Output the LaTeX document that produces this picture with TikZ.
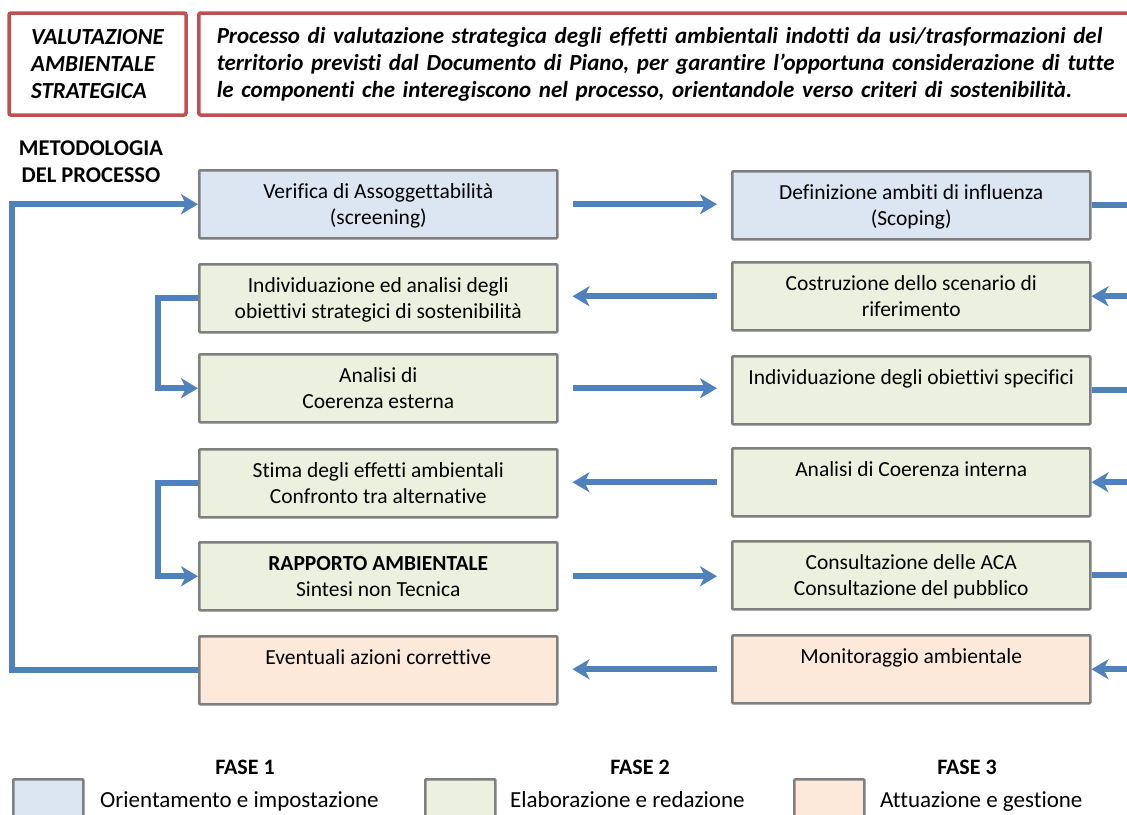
\documentclass[tikz,border=0pt]{standalone}
\usepackage{fontspec}
\setmainfont{Carlito}[Ligatures={NoCommon}]
\usepackage{tikz}
\usetikzlibrary{arrows.meta}

\definecolor{rosso}{HTML}{C0504D}
\definecolor{grigio}{HTML}{7F7F7F}
\definecolor{azzurro}{HTML}{4F81BD}
\definecolor{fase1}{HTML}{DCE6F2}
\definecolor{fase2}{HTML}{EBF1DE}
\definecolor{fase3}{HTML}{FDE9D9}

% текст блока: сверху, по центру
\newcommand{\testo}[1]{\parbox[c][68pt][t]{350pt}{\centering\fontsize{21.5}{26}\selectfont\rule{0pt}{28pt}#1}}

\begin{document}
\begin{tikzpicture}[x=1pt, y=-1pt,
    blocco/.style={draw=grigio, line width=2.5pt, rounded corners=1pt, inner sep=0pt, minimum width=358pt, anchor=north west},
    testata/.style={draw=rosso, line width=3.5pt, rounded corners=2pt, minimum height=102pt, font=\fontsize{23}{27}\selectfont\bfseries\itshape, align=left},
    freccia/.style={draw=azzurro, line width=6pt},
    punta/.style={-{Stealth[length=17pt,width=20pt,inset=5pt]}}]
			% Рамка страницы
			\useasboundingbox (0,0) rectangle (1127,814);
			\clip (0,0) rectangle (1127,814);
			
			% Заголовок
			\node[testata, minimum width=177pt] (vas) at (97.5,64) {VALUTAZIONE\\AMBIENTALE\\STRATEGICA};
			\node[testata, anchor=west, text width=1000pt, inner xsep=18pt] (descr) at (197,64) {Processo di valutazione strategica degli effetti ambientali indotti da usi/trasformazioni del\\territorio previsti dal Documento di Piano, per garantire l’opportuna considerazione di tutte\\le componenti che interegiscono nel processo, orientandole verso criteri di sostenibilità.};
			\node[font=\fontsize{22.5}{27}\selectfont\bfseries, align=center] (metodo) at (91,162) {METODOLOGIA\\DEL PROCESSO};
			
			% Левый столбец
			\node[blocco, fill=fase1] (L1) at (198,169) {\testo{Verifica di Assoggettabilità\\(screening)}};
			\node[blocco, fill=fase2] (L2) at (198,263) {\testo{Individuazione ed analisi degli\\obiettivi strategici di sostenibilità}};
			\node[blocco, fill=fase2] (L3) at (198,353) {\testo{Analisi di\\Coerenza esterna}};
			\node[blocco, fill=fase2] (L4) at (198,448) {\testo{Stima degli effetti ambientali\\Confronto tra alternative}};
			\node[blocco, fill=fase2] (L5) at (198,541) {\testo{\textbf{RAPPORTO AMBIENTALE}\\Sintesi non Tecnica}};
			\node[blocco, fill=fase3] (L6) at (198,635) {\testo{Eventuali azioni correttive}};
			
			% Правый столбец
			\node[blocco, fill=fase1] (R1) at (731,170) {\testo{Definizione ambiti di influenza\\(Scoping)}};
			\node[blocco, fill=fase2] (R2) at (731,261) {\testo{Costruzione dello scenario di\\riferimento}};
			\node[blocco, fill=fase2] (R3) at (731,355) {\testo{Individuazione degli obiettivi specifici}};
			\node[blocco, fill=fase2] (R4) at (731,447) {\testo{Analisi di Coerenza interna}};
			\node[blocco, fill=fase2] (R5) at (731,540) {\testo{Consultazione delle ACA\\Consultazione del pubblico}};
			\node[blocco, fill=fase3] (R6) at (731,634) {\testo{Monitoraggio ambientale}};
			
			% Точки за краем страницы
			\coordinate (bordo) at (1140,0);
			\coordinate (ritorno) at (12,0);
			
			% Стрелки между столбцами
			\draw[freccia, punta, shorten <=14pt, shorten >=14pt] (L1.east) -- (L1.east -| R1.west);
			\draw[freccia, punta, shorten <=14pt, shorten >=14pt] (R2.west) -- (R2.west -| L2.east);
			\draw[freccia, punta, shorten <=14pt, shorten >=14pt] (L3.east) -- (L3.east -| R3.west);
			\draw[freccia, punta, shorten <=14pt, shorten >=14pt] (R4.west) -- (R4.west -| L4.east);
			\draw[freccia, punta, shorten <=14pt, shorten >=14pt] (L5.east) -- (L5.east -| R5.west);
			\draw[freccia, punta, shorten <=14pt, shorten >=14pt] (R6.west) -- (R6.west -| L6.east);
			
			% Линии у правого края
			\draw[freccia] (R1.east) -- (R1.east -| bordo);
			\draw[freccia, punta] (R2.east -| bordo) -- (R2.east);
			\draw[freccia] (R3.east) -- (R3.east -| bordo);
			\draw[freccia, punta] (R4.east -| bordo) -- (R4.east);
			\draw[freccia] (R5.east) -- (R5.east -| bordo);
			\draw[freccia, punta] (R6.east -| bordo) -- (R6.east);
			
			% Скобки слева
			\draw[freccia, punta] (L2.west) -- ([xshift=-40pt]L2.west) |- (L3.west);
			\draw[freccia, punta] (L4.west) -- ([xshift=-40pt]L4.west) |- (L5.west);
			
			% Обратная связь
			\draw[freccia, punta] (L6.west) -- (L6.west -| ritorno) |- (L1.west);
			
			% Легенда
			\node[font=\fontsize{22}{26}\selectfont\bfseries] (f1) at (245,767) {FASE 1};
			\node[font=\fontsize{22}{26}\selectfont\bfseries] (f2) at (640,767) {FASE 2};
			\node[font=\fontsize{22}{26}\selectfont\bfseries] (f3) at (967,767) {FASE 3};
			\node[blocco, fill=fase1, minimum width=70pt, minimum height=50pt] (leg1) at (12,778) {};
			\node[blocco, fill=fase2, minimum width=70pt, minimum height=50pt] (leg2) at (424,778) {};
			\node[blocco, fill=fase3, minimum width=70pt, minimum height=50pt] (leg3) at (793,778) {};
			\node[font=\fontsize{23}{26}\selectfont, anchor=base west, inner sep=0pt] (t1) at (100,807) {Orientamento e impostazione};
			\node[font=\fontsize{23}{26}\selectfont, anchor=base west, inner sep=0pt] (t2) at (510,807) {Elaborazione e redazione};
			\node[font=\fontsize{23}{26}\selectfont, anchor=base west, inner sep=0pt] (t3) at (880,807) {Attuazione e gestione};
			
		\end{tikzpicture}
\end{document}
